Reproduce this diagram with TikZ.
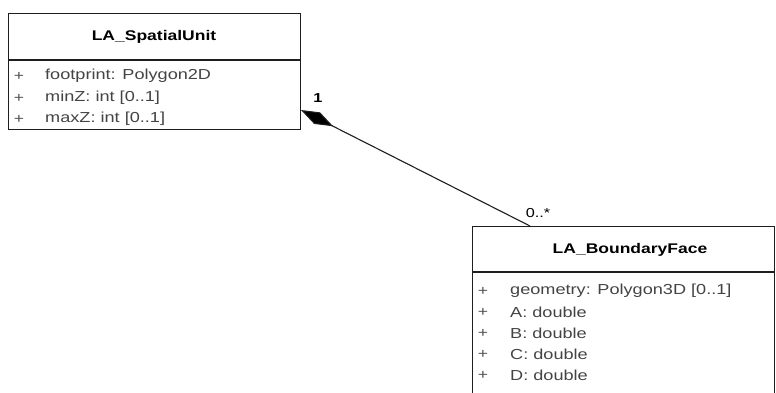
\documentclass[tikz,border=0pt]{standalone}
\usepackage{fontspec}
\setmainfont{Liberation Sans}[FakeStretch=1.25]
\usetikzlibrary{arrows.meta}
\definecolor{attr}{HTML}{444444}
\definecolor{plusc}{HTML}{555555}
\definecolor{edge}{HTML}{1E1E1E}
\tikzset{
  classbox/.style={draw=edge, line width=1.4pt, inner sep=0pt, anchor=north west},
  title/.style={font=\fontsize{14}{16}\selectfont\bfseries, text=black, inner sep=0pt},
  attrtext/.style={font=\fontsize{14.5}{16}\selectfont, text=attr, anchor=west, inner sep=0pt},
  plussign/.style={font=\fontsize{14}{15}\selectfont, text=plusc, inner sep=0pt},
  mult/.style={font=\fontsize{13}{15}\selectfont, text=black, inner sep=0pt},
  assoc/.style={draw=edge, line width=1.1pt}
}
\begin{document}
\begin{tikzpicture}[x=1pt,y=-1pt]
\clip (0,0) rectangle (776,392);
\fill[white] (0,0) rectangle (776,392);
% LA_SpatialUnit
\node[classbox, minimum width=292pt, minimum height=116pt] (su) at (8,13) {};
\draw[draw=edge, line width=1.4pt] (8,60) -- (300,60);
\node[title] (sut) at (154,37) {LA\_SpatialUnit};
\node[plussign] (sp1) at (19,76) {+};
\node[attrtext] (sa1) at (45,76) {footprint: Polygon2D};
\node[plussign] (sp2) at (19,98) {+};
\node[attrtext] (sa2) at (45,98) {minZ: int [0..1]};
\node[plussign] (sp3) at (19,119) {+};
\node[attrtext] (sa3) at (45,119) {maxZ: int [0..1]};
% LA_BoundaryFace
\node[classbox, minimum width=302pt, minimum height=200pt] (bf) at (472,226) {};
\draw[draw=edge, line width=1.4pt] (472,272) -- (774,272);
\node[title] (bft) at (630,250) {LA\_BoundaryFace};
\node[plussign] (bp1) at (483,291) {+};
\node[attrtext] (ba1) at (510,291) {geometry: Polygon3D [0..1]};
\node[plussign] (bp2) at (483,312) {+};
\node[attrtext] (ba2) at (510,312) {A: double};
\node[plussign] (bp3) at (483,333) {+};
\node[attrtext] (ba3) at (510,333) {B: double};
\node[plussign] (bp4) at (483,354) {+};
\node[attrtext] (ba4) at (510,354) {C: double};
\node[plussign] (bp5) at (483,375) {+};
\node[attrtext] (ba5) at (510,375) {D: double};
% association
\coordinate (cstart) at (530,226);
\coordinate (cend) at (301,110);
\draw[assoc, -{Diamond[length=36pt, width=13pt, fill=black]}] (cstart) -- (cend);
\node[mult, font=\fontsize{13}{15}\selectfont\bfseries] (m1) at (318,98) {1};
\node[mult] (m2) at (538,213) {0..*};
\end{tikzpicture}
\end{document}
